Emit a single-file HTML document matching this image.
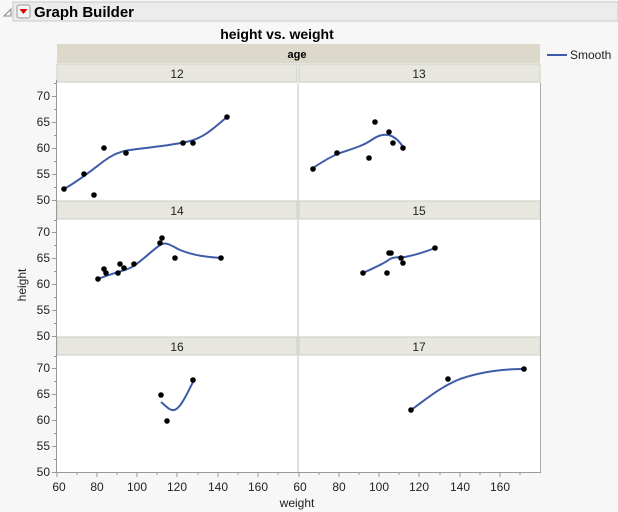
<!DOCTYPE html><html><head><style>body{margin:0;background:#f7f7f7;}svg{display:block;font-family:"Liberation Sans",sans-serif;}</style></head><body>
<svg width="618" height="512" viewBox="0 0 618 512">
<rect x="0" y="0" width="618" height="512" fill="#f7f7f7"/>
<path d="M4 16 L11 9 L11 16 Z" fill="none" stroke="#888"/>
<rect x="13" y="2" width="605" height="19" fill="#ececec" stroke="#c8c8c8"/>
<rect x="17" y="5" width="13" height="13" rx="2" fill="#f4f4f4" stroke="#999"/>
<path d="M19.5 9 L27.5 9 L23.5 14 Z" fill="#d00"/>
<text x="34" y="17" font-size="15" font-weight="bold">Graph Builder</text>
<text x="277" y="39" font-size="14" font-weight="bold" text-anchor="middle">height vs. weight</text>
<rect x="57" y="44" width="483" height="19" fill="#dcd9cb"/>
<text x="297" y="58" font-size="11" font-weight="bold" text-anchor="middle">age</text>
<g fill="#e8e7df" stroke="#d2d0c4">
<rect x="57" y="64" width="240" height="18"/><rect x="299" y="64" width="241" height="18"/>
<rect x="57" y="201" width="240" height="18"/><rect x="299" y="201" width="241" height="18"/>
<rect x="57" y="337" width="240" height="18"/><rect x="299" y="337" width="241" height="18"/>
</g>
<g font-size="12" text-anchor="middle" fill="#222">
<text x="177" y="78">12</text><text x="419" y="78">13</text>
<text x="177" y="215">14</text><text x="419" y="215">15</text>
<text x="177" y="351">16</text><text x="419" y="351">17</text>
</g>
<g fill="#fff">
<rect x="57" y="83" width="240" height="117"/><rect x="299" y="83" width="241" height="117"/>
<rect x="57" y="220" width="240" height="116"/><rect x="299" y="220" width="241" height="116"/>
<rect x="57" y="356" width="240" height="116"/><rect x="299" y="356" width="241" height="116"/>
</g>
<line x1="298" y1="83" x2="298" y2="472" stroke="#d8d8d8" stroke-width="1.5"/>
<line x1="540.5" y1="83" x2="540.5" y2="472" stroke="#aaa"/>
<g stroke="#999">
<line x1="56.5" y1="80" x2="56.5" y2="473"/>
<line x1="56" y1="472.5" x2="541" y2="472.5"/>
</g>
<g font-size="12" text-anchor="end" fill="#222">
<text x="50" y="100">70</text><text x="50" y="126">65</text><text x="50" y="152">60</text><text x="50" y="178">55</text><text x="50" y="204">50</text>
<text x="50" y="236">70</text><text x="50" y="262">65</text><text x="50" y="288">60</text><text x="50" y="314">55</text><text x="50" y="340">50</text>
<text x="50" y="372">70</text><text x="50" y="398">65</text><text x="50" y="424">60</text><text x="50" y="450">55</text><text x="50" y="476">50</text>
</g>
<g stroke="#999">
<path d="M52 96.5h4M52 122.5h4M52 148.5h4M52 174.5h4M52 200.5h4M54 109.5h2M54 135.5h2M54 161.5h2M54 187.5h2M54 83.5h2"/>
<path d="M52 232.5h4M52 258.5h4M52 284.5h4M52 310.5h4M52 336.5h4M54 245.5h2M54 271.5h2M54 297.5h2M54 323.5h2M54 220.5h2"/>
<path d="M52 368.5h4M52 394.5h4M52 420.5h4M52 446.5h4M52 472.5h4M54 381.5h2M54 407.5h2M54 433.5h2M54 459.5h2M54 356.5h2"/>
<path d="M57 472v5M97 472v5M137 472v5M177 472v5M218 472v5M258 472v5M299 472v5M339 472v5M379 472v5M419 472v5M460 472v5M500 472v5M77 472v3M117 472v3M157 472v3M198 472v3M238 472v3M278 472v3M319 472v3M359 472v3M399 472v3M440 472v3M480 472v3M520 472v3"/>
</g>
<g font-size="12" text-anchor="middle" fill="#222">
<text x="59" y="491">60</text><text x="97" y="491">80</text><text x="137" y="491">100</text><text x="177" y="491">120</text><text x="218" y="491">140</text><text x="258" y="491">160</text>
<text x="300" y="491">60</text><text x="339" y="491">80</text><text x="379" y="491">100</text><text x="419" y="491">120</text><text x="460" y="491">140</text><text x="500" y="491">160</text>
<text x="297" y="507">weight</text>
<text transform="translate(26,285) rotate(-90)">height</text>
</g>
<g fill="none" stroke="#3e5ba8" stroke-width="2">
<path d="M64 189 C80 180 92 170 104 161 C112 155 120 151 130 150 C150 147 170 146 190 141 C205 137 215 127 227 117"/>
<path d="M313 168 C325 160 332 156 340 153 C355 148 362 146 370 141 C377 136 382 134 389 135 C395 137 400 142 403 147"/>
<path d="M98 279 C110 274 120 272 130 268 C140 263 150 252 160 245 C166 241 172 246 180 250 C195 256 208 257 221 258"/>
<path d="M363 273 C373 268 382 265 390 259 C396 256 400 258 405 257 C415 255 425 252 435 248"/>
<path d="M161 402 C166 406 170 411 174 410 C180 409 186 396 193 382"/>
<path d="M411 410 C425 400 440 387 460 379 C480 372 500 369 524 369"/>
<path d="M547 55h20"/>
</g>
<text x="570" y="59" font-size="12" fill="#222">Smooth</text>
<g fill="#000">
<circle cx="64" cy="189" r="2.8"/><circle cx="84" cy="174" r="2.8"/><circle cx="94" cy="195" r="2.8"/><circle cx="104" cy="148" r="2.8"/><circle cx="126" cy="153" r="2.8"/><circle cx="183" cy="143" r="2.8"/><circle cx="193" cy="143" r="2.8"/><circle cx="227" cy="117" r="2.8"/>
<circle cx="313" cy="169" r="2.8"/><circle cx="337" cy="153" r="2.8"/><circle cx="369" cy="158" r="2.8"/><circle cx="375" cy="122" r="2.8"/><circle cx="389" cy="132" r="2.8"/><circle cx="393" cy="143" r="2.8"/><circle cx="403" cy="148" r="2.8"/>
<circle cx="98" cy="279" r="2.8"/><circle cx="104" cy="269" r="2.8"/><circle cx="106" cy="273" r="2.8"/><circle cx="118" cy="273" r="2.8"/><circle cx="120" cy="264" r="2.8"/><circle cx="124" cy="268" r="2.8"/><circle cx="134" cy="264" r="2.8"/><circle cx="160" cy="243" r="2.8"/><circle cx="162" cy="238" r="2.8"/><circle cx="175" cy="258" r="2.8"/><circle cx="221" cy="258" r="2.8"/>
<circle cx="363" cy="273" r="2.8"/><circle cx="387" cy="273" r="2.8"/><circle cx="389" cy="253" r="2.8"/><circle cx="391" cy="253" r="2.8"/><circle cx="401" cy="258" r="2.8"/><circle cx="403" cy="263" r="2.8"/><circle cx="435" cy="248" r="2.8"/>
<circle cx="161" cy="395" r="2.8"/><circle cx="167" cy="421" r="2.8"/><circle cx="193" cy="380" r="2.8"/>
<circle cx="411" cy="410" r="2.8"/><circle cx="448" cy="379" r="2.8"/><circle cx="524" cy="369" r="2.8"/>
</g>
</svg>
</body></html>
